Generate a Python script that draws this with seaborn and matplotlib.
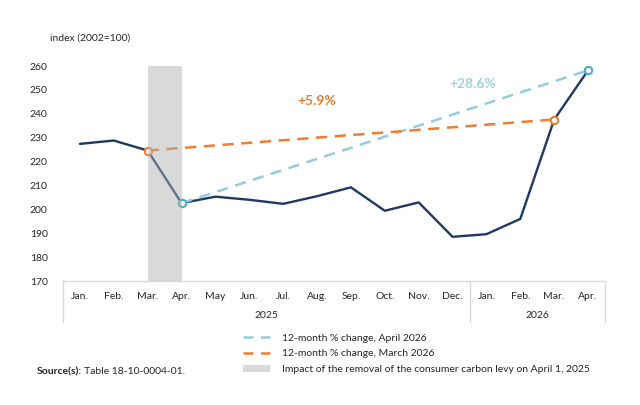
import matplotlib
matplotlib.use("Agg")
import matplotlib.pyplot as plt
import seaborn as sns
import pandas as pd
import numpy as np
from matplotlib.lines import Line2D
from matplotlib.patches import Patch

months = ["Jan.", "Feb.", "Mar.", "Apr.", "May", "Jun.", "Jul.", "Aug.", "Sep.", "Oct.", "Nov.", "Dec.",
          "Jan.", "Feb.", "Mar.", "Apr."]
years = ["2025"] * 12 + ["2026"] * 4
index_values = [227.4, 228.8, 224.6, 202.6, 205.3, 204.0, 202.3, 205.5, 209.2, 199.4, 202.9, 188.5,
                189.6, 196.0, 237.6, 258.2]
yticks = [170, 180, 190, 200, 210, 220, 230, 240, 250, 260]
label_apr = "+28.6%"
label_mar = "+5.9%"

sns.set_theme(style="white")
plt.rcParams['font.family'] = ['Lato', 'DejaVu Sans']

navy = "#1f3864"
lblue = "#93cddd"
lblue_mk = "#4bacc6"
orange = "#ed7d31"
grid_gray = "#d9d9d9"
txt = "#262626"

df = pd.DataFrame({"pos": np.arange(len(months)), "month": months, "year": years, "value": index_values})

fig = plt.figure(figsize=(6.4, 4.05), dpi=100)
ax = fig.add_axes([63/640, 1-281/405, (605-63)/640, (281-66)/405])

sns.lineplot(data=df, x="pos", y="value", color=navy, lw=1.7, ax=ax, zorder=3)

# 12-month change lines
apr = df.iloc[[3, 15]]
mar = df.iloc[[2, 14]]
sns.lineplot(data=apr, x="pos", y="value", color=lblue, lw=1.8, ax=ax, zorder=4)
ax.lines[-1].set_dashes((4.5, 3))
sns.lineplot(data=mar, x="pos", y="value", color=orange, lw=1.8, ax=ax, zorder=4)
ax.lines[-1].set_dashes((4.5, 3))
ax.scatter(apr["pos"], apr["value"], s=28, facecolor="white", edgecolor=lblue_mk, linewidth=1.5, zorder=5)
ax.scatter(mar["pos"], mar["value"], s=28, facecolor="white", edgecolor=orange, linewidth=1.5, zorder=5)

# shaded band (semi-transparent over the line)
ax.axvspan(2, 3, color="#b0b0b0", alpha=0.48, lw=0, zorder=6)

ax.text(7.0, 245.5, label_mar, color=orange, fontsize=10, fontweight="bold", ha="center", va="center")
ax.text(11.6, 252.5, label_apr, color=lblue, fontsize=10, fontweight="semibold", ha="center", va="center")

ax.set_xlim(-0.5, 15.5)
ax.set_ylim(170, 260)
ax.set_yticks(yticks)
ax.set_yticklabels([str(v) for v in yticks], fontsize=7.5, color=txt)
ax.set_xticks(df["pos"])
ax.set_xticklabels(months, fontsize=7.5, color=txt)
ax.tick_params(axis="both", length=0)
ax.tick_params(axis="x", pad=8)
ax.tick_params(axis="y", pad=11)
ax.set_xlabel("")
ax.set_ylabel("")
for s in ["left", "right", "top"]:
    ax.spines[s].set_visible(False)
ax.spines["bottom"].set_color(grid_gray)
ax.spines["bottom"].set_linewidth(1.0)

# category box with year groups
yb = (281 - 322) / 215
trans = ax.get_xaxis_transform()
for xv in [-0.5, 11.5, 15.5]:
    ax.add_line(Line2D([xv, xv], [0, yb], transform=trans, color=grid_gray, lw=1.0, clip_on=False))
for yr in ["2025", "2026"]:
    sub = df[df["year"] == yr]
    ax.text(sub["pos"].mean(), (281 - 315) / 215, yr, transform=trans, ha="center", va="center",
            fontsize=7.5, color=txt)

fig.text(50/640, 1-38/405, "index (2002=100)", fontsize=7.5, color=txt, va="center", ha="left")

handles = [Line2D([0], [0], color=lblue, lw=1.8, dashes=(4, 3)),
           Line2D([0], [0], color=orange, lw=1.8, dashes=(4, 3)),
           Patch(facecolor="#d9d9d9", edgecolor="none")]
labels = ["12-month % change, April 2026", "12-month % change, March 2026",
          "Impact of the removal of the consumer carbon levy on April 1, 2025"]
fig.legend(handles, labels, loc="upper left", bbox_to_anchor=(234/640, 1-324/405), frameon=False,
           fontsize=7.5, handlelength=2.6, handletextpad=1.1, labelspacing=0.62, labelcolor=txt)

fig.text(37/640, 1-372/405, "Source(s):", fontsize=7.5, fontweight="bold", color=txt, va="center")
fig.text(84/640, 1-372/405, "Table 18-10-0004-01.", fontsize=7.5, color=txt, va="center")

fig.savefig("out.png", dpi=100)
